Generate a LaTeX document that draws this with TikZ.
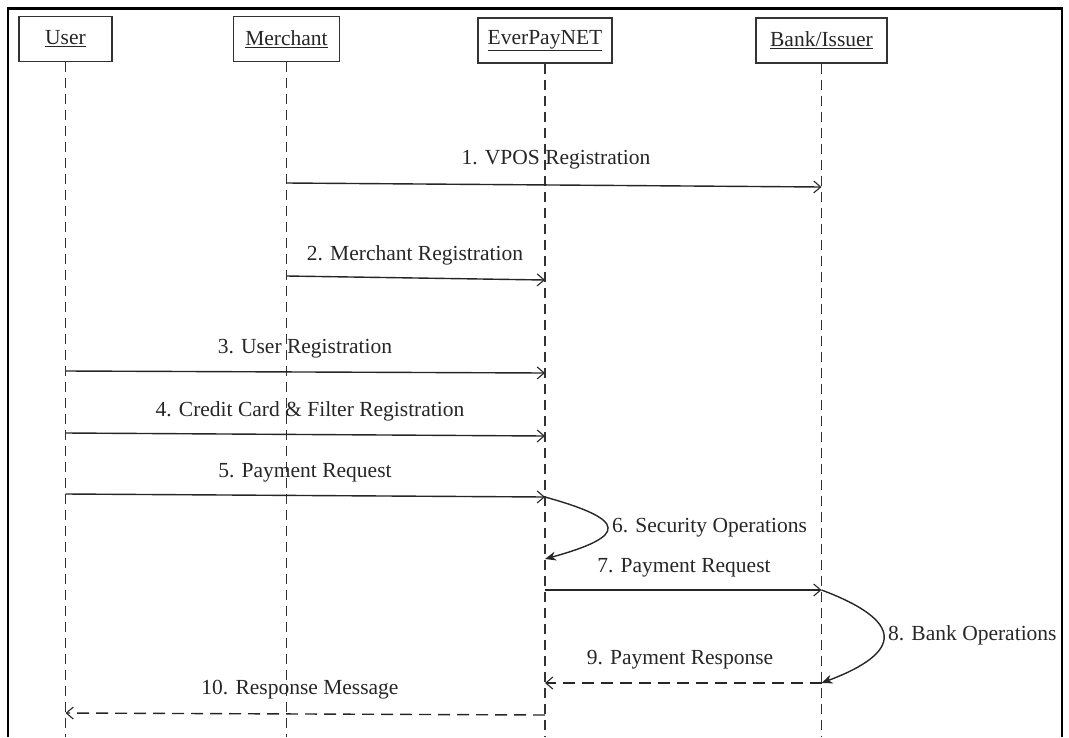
\documentclass[tikz,border=0pt]{standalone}
\usepackage{fontspec}
\setmainfont{Liberation Serif}
\usetikzlibrary{arrows.meta}
\begin{document}
\begin{tikzpicture}[x=1pt,y=-1pt,
  every node/.style={font=\fontsize{21.5}{25}\selectfont, text=black!85},
  head/.style={draw=black!80, line width=1.8pt, minimum height=45pt, inner sep=0pt},
  life/.style={draw=black!80, line width=1.4pt, dash pattern=on 10pt off 6pt},
  msg/.style={draw=black!85, line width=1.4pt, -{Straight Barb[length=7pt,width=12pt,line width=1.1pt]}},
  reply/.style={msg, dash pattern=on 12pt off 7pt},
  selfmsg/.style={draw=black!85, line width=1.4pt, -{Stealth[length=11pt,width=9pt]}},
  lbl/.style={inner sep=0pt}]
\useasboundingbox (0,0) rectangle (1069,737);

% outer frame, open at the bottom
\draw[line width=3pt] (6.5,8) -- (1063,8);
\draw[line width=2pt] (8,8) -- (8,737);
\draw[line width=2pt] (1062,8) -- (1062,737);

% participants
\node[head, minimum width=93pt]  (user)     at (65.5,39)  {\underline{User}};
\node[head, minimum width=106pt] (merchant) at (286.5,39) {\underline{Merchant}};
\node[head, minimum width=134pt] (epn)      at (545,40.5) {\underline{EverPayNET}};
\node[head, minimum width=131pt] (bank)     at (821.5,40.5) {\underline{Bank/Issuer}};

% lifelines
\foreach \p in {user,merchant,epn,bank}
  \draw[life] (\p.south) -- (\p.south |- 0,737);

% message end points on the lifelines
\coordinate (m1a) at (merchant.south |- 0,183);
\coordinate (m1b) at (bank.south |- 0,187);
\coordinate (m2a) at (merchant.south |- 0,276);
\coordinate (m2b) at (epn.south |- 0,280);
\coordinate (m3a) at (user.south |- 0,371);
\coordinate (m3b) at (epn.south |- 0,373);
\coordinate (m4a) at (user.south |- 0,433);
\coordinate (m4b) at (epn.south |- 0,436);
\coordinate (m5a) at (user.south |- 0,494);
\coordinate (m5b) at (epn.south |- 0,497);
\coordinate (m6b) at (epn.south |- 0,559);
\coordinate (m7a) at (epn.south |- 0,590);
\coordinate (m7b) at (bank.south |- 0,590);
\coordinate (m8b) at (bank.south |- 0,683);
\coordinate (m9a) at (epn.south |- 0,683);
\coordinate (m10a) at (epn.south |- 0,715);
\coordinate (m10b) at (user.south |- 0,713);

% messages
\draw[msg] (m1a) -- (m1b);
\draw[msg] (m2a) -- (m2b);
\draw[msg] (m3a) -- (m3b);
\draw[msg] (m4a) -- (m4b);
\draw[msg] (m5a) -- (m5b);
\draw[selfmsg] (m5b) .. controls (628,520) and (628,536) .. (m6b);
\draw[msg] (m7a) -- (m7b);
\draw[selfmsg] (m7b) .. controls (904,621) and (904,652) .. (m8b);
\draw[reply] (m8b) -- (m9a);
\draw[reply] (m10a) -- (m10b);

% message labels
\node[lbl] (l1)  at (556,160) {1. VPOS Registration};
\node[lbl] (l2)  at (415,255) {2. Merchant Registration};
\node[lbl] (l3)  at (305,349) {3. User Registration};
\node[lbl] (l4)  at (310,411) {4. Credit Card \& Filter Registration};
\node[lbl] (l5)  at (305,473) {5. Payment Request};
\node[lbl, anchor=west] (l6) at (612,528) {6. Security Operations};
\node[lbl] (l7)  at (684,568) {7. Payment Request};
\node[lbl, anchor=west] (l8) at (888,635) {8. Bank Operations};
\node[lbl] (l9)  at (680,660) {9. Payment Response};
\node[lbl] (l10) at (300,690) {10. Response Message};
\end{tikzpicture}
\end{document}
